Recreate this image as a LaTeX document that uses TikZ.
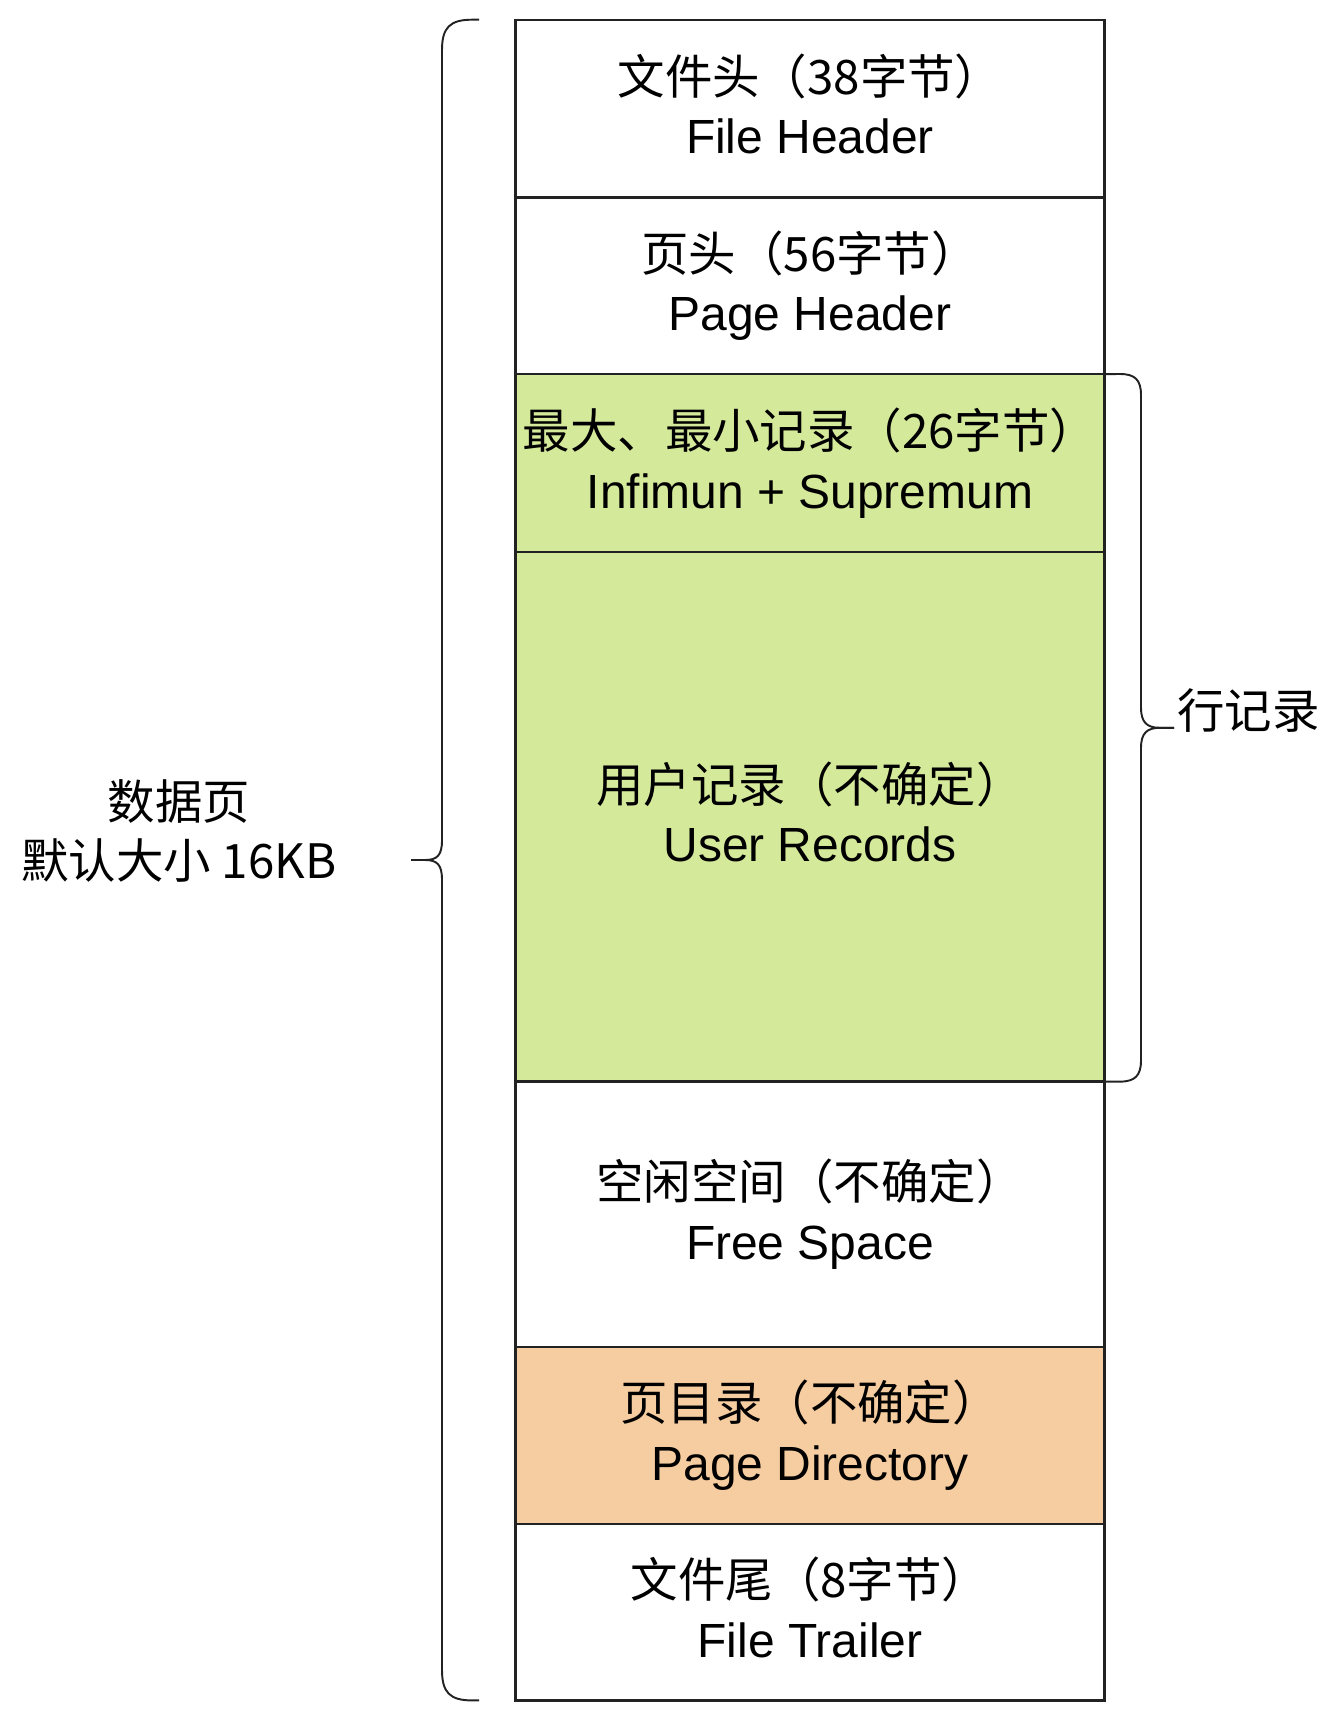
\documentclass[tikz,border=0pt]{standalone}
\usepackage{fontspec}
\setmainfont{Liberation Sans}
\newfontfamily\cjk{Noto Sans CJK SC}
\usepackage{tikz}
\usetikzlibrary{positioning}

\definecolor{recgreen}{HTML}{D5E99B}
\definecolor{dirorange}{HTML}{F6CDA0}
\definecolor{edgegray}{HTML}{222222}
\newcommand{\zh}[1]{{\cjk\fontsize{27}{34}\selectfont #1}}

\begin{document}
\begin{tikzpicture}[
        node distance=0pt,
        layer/.style={draw=edgegray, line width=1.3pt, outer sep=0pt, inner xsep=2pt, minimum width=11.78cm, text depth=0.2cm, align=center, font=\fontsize{27.3}{34}\selectfont},
        lbl/.style={inner sep=0pt, align=center, font=\fontsize{27}{34}\selectfont},
        brace/.style={draw=edgegray, line width=1.1pt}
    ]
        \useasboundingbox (0,0) rectangle (26.68,-34.4);

        \node[layer, minimum height=3.556cm, anchor=north] (fhdr) at (16.2,-0.394) {\zh{文件头（38字节）}\\File Header};
        \node[layer, minimum height=3.532cm, below=of fhdr] (phdr) {\zh{页头（56字节）}\\Page Header};
        \node[layer, minimum height=3.554cm, below=of phdr, fill=recgreen] (infsup) {\zh{最大、最小记录（26字节）}\\Infimun + Supremum};
        \node[layer, minimum height=10.596cm, below=of infsup, fill=recgreen] (usrrec) {\zh{用户记录（不确定）}\\User Records};
        \node[layer, minimum height=5.31cm, below=of usrrec] (freesp) {\zh{空闲空间（不确定）}\\Free Space};
        \node[layer, minimum height=3.532cm, below=of freesp, fill=dirorange] (pgdir) {\zh{页目录（不确定）}\\Page Directory};
        \node[layer, minimum height=3.534cm, below=of pgdir] (ftrl) {\zh{文件尾（8字节）}\\File Trailer};

        % braces
        \coordinate (ltip) at (8.22,-17.2);
        \coordinate (rtip) at (23.48,-14.556);
        \draw[brace] (9.58,-0.394) -- (9.44,-0.394) .. controls (9.0,-0.394) and (8.84,-0.55) .. (8.84,-1.0)
            -- (8.84,-16.8) .. controls (8.84,-17.1) and (8.75,-17.2) .. (8.5,-17.2) -- (ltip);
        \draw[brace] (ltip) -- (8.5,-17.2) .. controls (8.75,-17.2) and (8.84,-17.3) .. (8.84,-17.6)
            -- (8.84,-33.4) .. controls (8.84,-33.85) and (9.0,-34.008) .. (9.44,-34.008) -- (9.58,-34.008);
        \draw[brace] (infsup.north east) -- (22.4,-7.48) .. controls (22.7,-7.48) and (22.82,-7.6) .. (22.82,-7.9)
            -- (22.82,-14.15) .. controls (22.82,-14.45) and (22.94,-14.556) .. (23.2,-14.556) -- (rtip);
        \draw[brace] (rtip) -- (23.2,-14.556) .. controls (22.94,-14.556) and (22.82,-14.66) .. (22.82,-14.96)
            -- (22.82,-21.21) .. controls (22.82,-21.51) and (22.7,-21.632) .. (22.4,-21.632) -- (usrrec.south east);

        \node[lbl] (pagelbl) at (3.58,-16.62) {\zh{数据页}\\\zh{默认大小 16KB}};
        \node[lbl, right=0.06cm of rtip, yshift=0.34cm] (rowlbl) {\zh{行记录}};
    \end{tikzpicture}
\end{document}
